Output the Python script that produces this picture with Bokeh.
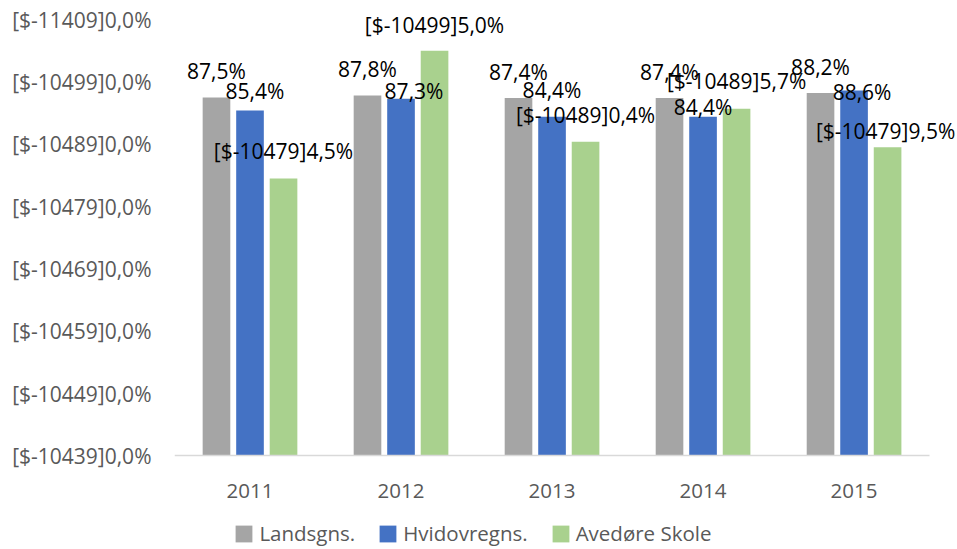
from bokeh.plotting import figure
from bokeh.models import ColumnDataSource, Range1d, FixedTicker, Legend, LegendItem
from bokeh.transform import dodge
from bokeh.core.properties import value
from bokeh.embed import file_html
from bokeh.resources import INLINE

# ---- data ----
years = ["2011", "2012", "2013", "2014", "2015"]
series_names = ["Landsgns.", "Hvidovregns.", "Avedøre Skole"]
landsgns = [87.5, 87.8, 87.4, 87.4, 88.2]
hvidovregns = [85.4, 87.3, 84.4, 84.4, 88.6]
avedoere = [74.5, 95.0, 80.4, 85.7, 79.5]
avedoere_labels = ["[$-10479]4,5%", "[$-10499]5,0%", "[$-10489]0,4%", "[$-10489]5,7%", "[$-10479]9,5%"]
y_ticks = [30, 40, 50, 60, 70, 80, 90, 100]
y_tick_labels = ["[$-10439]0,0%", "[$-10449]0,0%", "[$-10459]0,0%", "[$-10469]0,0%",
                 "[$-10479]0,0%", "[$-10489]0,0%", "[$-10499]0,0%", "[$-11409]0,0%"]

# ---- layout / style (label nudges in screen px) ----
lands_dx = [0, 0, 0, 0, 0]
lands_dy = [-26.5, -27, -26, -26, -26]
hvid_dx = [5, 13, 0, 0, 8]
hvid_dy = [-20, -8, -26.5, -9.5, 1]
aved_dx = [0, 0, 0, 0, -2]
aved_dy = [-27.5, -26, -26.5, -27.5, -16]

colors = ["#A5A5A5", "#4472C4", "#A9D18E"]
offsets = [-0.222, 0.0, 0.222]
FONT = "Open Sans"


def fmt(v):
    return f"{v:.1f}".replace(".", ",") + "%"


idx = list(range(len(years)))
series_vals = [landsgns, hvidovregns, avedoere]
series_labels = [[fmt(v) for v in landsgns], [fmt(v) for v in hvidovregns], avedoere_labels]
series_dx = [lands_dx, hvid_dx, aved_dx]
series_dy = [lands_dy, hvid_dy, aved_dy]

base = y_ticks[0]
# plot frame spans the full figure height; the x axis is pinned at the base value
y_lo, y_hi = 15.0, 103.05
x_lo, x_hi = -0.5, 4.685

p = figure(width=957, height=549, x_range=Range1d(x_lo, x_hi),
           y_range=Range1d(y_lo, y_hi), output_backend="svg", toolbar_location=None)
p.min_border_left = 174
p.min_border_right = 0
p.min_border_top = 0
p.min_border_bottom = 0
p.outline_line_color = None
p.xgrid.grid_line_color = None
p.ygrid.grid_line_color = None
p.background_fill_color = "white"
p.border_fill_color = "white"

items = []
for i in range(3):
    src = ColumnDataSource(dict(xi=idx, val=series_vals[i]))
    r = p.vbar(x=dodge("xi", offsets[i]), top="val", bottom=base,
               width=0.183, source=src, fill_color=colors[i], line_color=None)
    items.append(LegendItem(label=series_names[i], renderers=[r]))

for i in range(3):
    src = ColumnDataSource(dict(xi=idx, val=series_vals[i], label=series_labels[i],
                                dx=series_dx[i], dy=series_dy[i]))
    p.text(x=dodge("xi", offsets[i]), y="val", text="label",
           x_offset="dx", y_offset="dy", source=src,
           text_font=value(FONT), text_font_size="21px", text_color="#000000",
           text_align="center", text_baseline="middle")

# y axis
p.yaxis.ticker = FixedTicker(ticks=y_ticks)
p.yaxis.major_label_overrides = {t: l for t, l in zip(y_ticks, y_tick_labels)}
p.yaxis.axis_line_color = None
p.yaxis.major_tick_line_color = None
p.yaxis.minor_tick_line_color = None
p.yaxis.major_tick_in = 0
p.yaxis.major_tick_out = 0
p.yaxis.minor_tick_in = 0
p.yaxis.minor_tick_out = 0
p.yaxis.major_label_standoff = 23
p.yaxis.major_label_text_font = FONT
p.yaxis.major_label_text_font_size = "21px"
p.yaxis.major_label_text_color = "#595959"

# x axis pinned at the base value
p.xaxis.fixed_location = base
p.xaxis.ticker = FixedTicker(ticks=idx)
p.xaxis.major_label_overrides = {i: y for i, y in zip(idx, years)}
p.xaxis.bounds = (x_lo, len(years) - 0.5)
p.xaxis.axis_line_color = "#D9D9D9"
p.xaxis.axis_line_width = 1.5
p.xaxis.major_tick_line_color = None
p.xaxis.minor_tick_line_color = None
p.xaxis.major_tick_in = 0
p.xaxis.major_tick_out = 0
p.xaxis.minor_tick_in = 0
p.xaxis.minor_tick_out = 0
p.xaxis.major_label_standoff = 28
p.xaxis.major_label_text_font = FONT
p.xaxis.major_label_text_font_size = "20.5px"
p.xaxis.major_label_text_color = "#595959"

legend = Legend(items=items, orientation="horizontal", location=(59.4, 2),
                label_text_font=FONT, label_text_font_size="20.5px", label_text_color="#595959",
                glyph_width=21, glyph_height=21, label_standoff=5, spacing=22,
                padding=0, margin=0, border_line_color=None, background_fill_alpha=0)
p.add_layout(legend)

open("out.html", "w").write(file_html(p, INLINE))
